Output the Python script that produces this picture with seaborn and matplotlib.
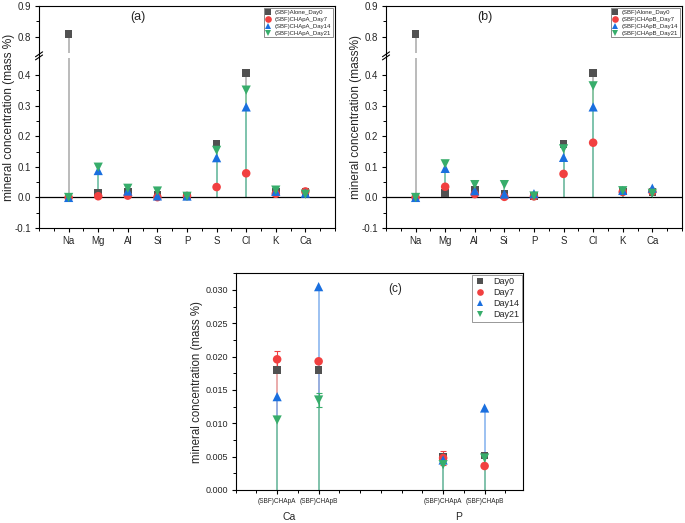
import numpy as np
import pandas as pd
import matplotlib
matplotlib.use("Agg")
import matplotlib.pyplot as plt
import matplotlib.colors as mcolors
import seaborn as sns
from matplotlib.lines import Line2D
from matplotlib.ticker import FixedLocator, FuncFormatter

# ---------------- data ----------------
elements = ["Na", "Mg", "Al", "Si", "P", "S", "Cl", "K", "Ca"]

series_a = ["(SBF)Alone_Day0", "(SBF)CHApA_Day7", "(SBF)CHApA_Day14", "(SBF)CHApA_Day21"]
a_day0 = [0.808, 0.015, 0.020, 0.010, 0.005, 0.175, 0.407, 0.020, 0.018]
a_day7 = [0.000, 0.004, 0.006, 0.001, 0.0048, 0.034, 0.079, 0.012, 0.0196]
a_day14 = [0.000, 0.088, 0.021, 0.005, 0.0045, 0.130, 0.296, 0.020, 0.014]
a_day21 = [0.000, 0.099, 0.030, 0.021, 0.0038, 0.154, 0.351, 0.024, 0.0105]

series_b = ["(SBF)Alone_Day0", "(SBF)CHApB_Day7", "(SBF)CHApB_Day14", "(SBF)CHApB_Day21"]
b_day0 = [0.808, 0.014, 0.025, 0.013, 0.005, 0.175, 0.407, 0.020, 0.018]
b_day7 = [0.000, 0.035, 0.011, 0.002, 0.0035, 0.077, 0.179, 0.018, 0.0193]
b_day14 = [0.000, 0.095, 0.022, 0.011, 0.0123, 0.131, 0.296, 0.023, 0.0305]
b_day21 = [0.000, 0.110, 0.042, 0.042, 0.0048, 0.159, 0.365, 0.022, 0.0137]

c_groups = ["(SBF)CHApA", "(SBF)CHApB", "(SBF)CHApA", "(SBF)CHApB"]
c_elements = ["Ca", "P"]
c_days = ["Day0", "Day7", "Day14", "Day21"]
c_day0 = [0.0180, 0.0180, 0.0050, 0.0052]
c_day7 = [0.0196, 0.0193, 0.0048, 0.0036]
c_day14 = [0.0140, 0.0305, 0.0045, 0.0123]
c_day21 = [0.0105, 0.0135, 0.0038, 0.0048]
c_err0 = [0.0, 0.0, 0.0, 0.0]
c_err7 = [0.0012, 0.0, 0.0010, 0.0]
c_err14 = [0.0, 0.0, 0.0, 0.0]
c_err21 = [0.0, 0.0011, 0.0, 0.0]

# ---------------- style ----------------
sns.set_style("ticks")
plt.rcParams["font.family"] = ["Liberation Sans", "DejaVu Sans"]
plt.rcParams["axes.linewidth"] = 0.8

colors = ["#515151", "#F14040", "#1A6FDF", "#37AD6B"]
marks = ["s", "o", "^", "v"]
sizes = [30, 38, 44, 44]


def tint(c, f):
    r = np.array(mcolors.to_rgb(c))
    return tuple(r * f + (1 - f))


stem_colors = [tint(c, f) for c, f in zip(colors, [0.5, 0.45, 0.55, 0.65])]

# broken axis scale
A, B, G = 0.455, 0.745, 0.016


def fwd(y):
    y = np.asarray(y, float)
    return np.where(y < A, y, np.where(y > B, y - (B - A) + G, A + (y - A) * G / (B - A)))


def inv(u):
    u = np.asarray(u, float)
    return np.where(u < A, u, np.where(u > A + G, u + (B - A) - G, A + (u - A) * (B - A) / G))


fig = plt.figure(figsize=(6.85, 5.23), dpi=100)


def style_ticks(ax):
    ax.tick_params(axis="both", which="major", direction="out", length=3, width=0.8,
                   color="black", pad=2.5)
    ax.tick_params(axis="both", which="minor", direction="out", length=2, width=0.7,
                   color="black")
    for s in ax.spines.values():
        s.set_color("black")
        s.set_linewidth(0.8)
        s.set_visible(True)


def broken_panel(rect, names, values, tag, ylabel):
    ax = fig.add_axes(rect)
    ax.set_yscale("function", functions=(fwd, inv))
    pos = np.arange(1, len(elements) + 1)
    rows = []
    for name, vals in zip(names, values):
        for p, v in zip(pos, vals):
            rows.append({"pos": p, "value": v, "series": name})
    df = pd.DataFrame(rows)
    for i, (name, vals) in enumerate(zip(names, values)):
        ax.vlines(pos, 0, vals, colors=[stem_colors[i]], lw=1.1, zorder=1.5 + 0.01 * i)
    ax.axhline(0, color="black", lw=0.9, zorder=1.8)
    ax.axhspan(A, B, color="white", lw=0, zorder=2.0)
    sns.scatterplot(data=df, x="pos", y="value", hue="series", style="series",
                    size="series", palette=dict(zip(names, colors)),
                    markers=dict(zip(names, marks)), sizes=dict(zip(names, sizes)),
                    linewidth=0, legend=False, ax=ax, zorder=3)
    ax.set_xlim(0, 10)
    ax.set_ylim(-0.1, 0.9)
    ax.set_xticks(pos)
    ax.set_xticklabels(elements, fontsize=7)
    ax.xaxis.set_minor_locator(FixedLocator(np.arange(0, 10.01, 0.5)))
    ax.yaxis.set_major_locator(FixedLocator([-0.1, 0.0, 0.1, 0.2, 0.3, 0.4, 0.8, 0.9]))
    ax.yaxis.set_minor_locator(FixedLocator([-0.05, 0.05, 0.15, 0.25, 0.35, 0.85]))
    ax.yaxis.set_major_formatter(FuncFormatter(lambda v, p: f"{v:.1f}"))
    ax.tick_params(axis="y", labelsize=7)
    ax.set_xlabel("")
    ax.set_ylabel(ylabel, fontsize=8.6, labelpad=0)
    style_ticks(ax)
    # break marks
    lo, hi = float(fwd(-0.1)), float(fwd(0.9))
    yb = (A + G / 2 - lo) / (hi - lo)
    for d in (-0.007, 0.007):
        ax.plot([-0.012, 0.012], [yb + d - 0.011, yb + d + 0.011], color="black",
                lw=0.8, transform=ax.transAxes, clip_on=False, zorder=5)
    ax.text(0.335, 0.95, tag, transform=ax.transAxes, fontsize=9, ha="center", va="center")
    handles = [Line2D([], [], ls="none", marker=m, color=c, markersize=4.8, markeredgewidth=0)
               for m, c in zip(marks, colors)]
    leg = ax.legend(handles, names, loc="upper right", fontsize=4.3, frameon=True,
                    fancybox=False, edgecolor="#777777", framealpha=1, borderpad=0.25,
                    labelspacing=0.3, handlelength=1.0, handletextpad=0.6,
                    borderaxespad=0.35)
    leg.get_frame().set_linewidth(0.6)
    return ax


broken_panel([0.057, 0.564, 0.432, 0.4245], series_a, [a_day0, a_day7, a_day14, a_day21],
             "(a)", "mineral concentration (mass %)")
broken_panel([0.5635, 0.564, 0.432, 0.4245], series_b, [b_day0, b_day7, b_day14, b_day21],
             "(b)", "mineral concentration (mass%)")

# ---------------- panel (c) ----------------
axc = fig.add_axes([0.344, 0.0631, 0.4195, 0.4143])
c_pos = np.array([2, 4, 10, 12])
c_vals = [c_day0, c_day7, c_day14, c_day21]
c_errs = [c_err0, c_err7, c_err14, c_err21]
rows = []
for name, vals in zip(c_days, c_vals):
    for p, v in zip(c_pos, vals):
        rows.append({"pos": p, "value": v, "series": name})
dfc = pd.DataFrame(rows)
for i, vals in enumerate(c_vals):
    axc.vlines(c_pos, 0, vals, colors=[stem_colors[i]], lw=1.1, zorder=1.5 + 0.01 * i)
for i, (vals, errs) in enumerate(zip(c_vals, c_errs)):
    errs = np.array(errs)
    m = errs > 0
    if m.any():
        axc.errorbar(c_pos[m], np.array(vals)[m], yerr=errs[m], fmt="none",
                     ecolor=colors[i], elinewidth=0.8, capsize=2.2, capthick=0.8, zorder=2.5)
sns.scatterplot(data=dfc, x="pos", y="value", hue="series", style="series", size="series",
                palette=dict(zip(c_days, colors)), markers=dict(zip(c_days, marks)),
                sizes=dict(zip(c_days, sizes)), linewidth=0, legend=False, ax=axc, zorder=3)
axc.set_xlim(0, 13.85)
axc.set_ylim(0, 0.0325)
axc.set_xticks(c_pos)
axc.set_xticklabels(c_groups, fontsize=4.7)
axc.xaxis.set_minor_locator(FixedLocator(np.arange(0, 14, 1)))
axc.yaxis.set_major_locator(FixedLocator(np.arange(0, 0.0301, 0.005)))
axc.yaxis.set_minor_locator(FixedLocator(np.arange(0.0025, 0.0326, 0.005)))
axc.yaxis.set_major_formatter(FuncFormatter(lambda v, p: f"{v:.3f}"))
axc.tick_params(axis="y", labelsize=6.5)
axc.set_xlabel("")
axc.set_ylabel("mineral concentration (mass %)", fontsize=8.3, labelpad=2)
style_ticks(axc)
tr = axc.get_xaxis_transform()
for xg, lab in zip([2.6, 10.75], c_elements):
    axc.text(xg, -0.125, lab, transform=tr, fontsize=7.5, ha="center", va="center")
axc.text(0.554, 0.928, "(c)", transform=axc.transAxes, fontsize=8.5, ha="center", va="center")
handles_c = [Line2D([], [], ls="none", marker=m, color=c, markersize=4.8, markeredgewidth=0)
             for m, c in zip(marks, colors)]
legc = axc.legend(handles_c, c_days, loc="upper right", fontsize=6.5, frameon=True,
                  fancybox=False, edgecolor="#888888", framealpha=1, borderpad=0.3,
                  labelspacing=0.2, handlelength=1.2, handletextpad=0.8, borderaxespad=0.15)
legc.get_frame().set_linewidth(0.6)

fig.savefig("out.png", dpi=100)
